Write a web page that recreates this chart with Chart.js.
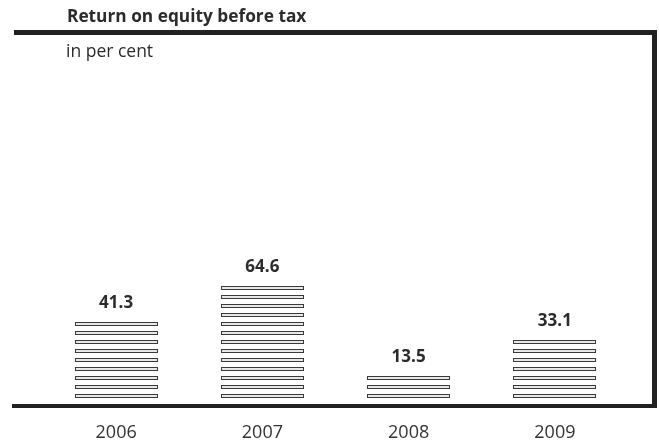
<!DOCTYPE html>
<html><head><meta charset="utf-8">
<script src="https://cdn.jsdelivr.net/npm/chart.js@4.4.0/dist/chart.umd.min.js"></script>
<style>html,body{margin:0;padding:0;background:#fff;} #wrap{width:659px;height:448px;position:relative;}</style>
</head><body><div id="wrap"><canvas id="c" width="659" height="448"></canvas></div>
<script>
const categories = ['2006', '2007', '2008', '2009'];
const returnOnEquity = [41.3, 64.6, 13.5, 33.1];
const valueLabels = ['41.3', '64.6', '13.5', '33.1'];
const titleText = 'Return on equity before tax';
const unitText = 'in per cent';
const yMax = 180;

const FONT = '"Open Sans", "Noto Sans", sans-serif';

const framePlugin = {
  id: 'frame',
  afterDraw(chart) {
    const ctx = chart.ctx;
    ctx.save();
    ctx.fillStyle = '#222';
    ctx.fillRect(14, 30, 643, 5);
    ctx.fillRect(652, 30, 5, 378);
    ctx.fillRect(12, 404, 645, 4);
    ctx.fillStyle = '#2b2b2b';
    ctx.textAlign = 'left';
    ctx.textBaseline = 'alphabetic';
    ctx.font = 'bold 17.3px ' + FONT;
    ctx.fillText(titleText, 67, 22);
    ctx.font = '17.5px ' + FONT;
    ctx.fillText(unitText, 66, 57);
    ctx.restore();
  }
};

const stripePlugin = {
  id: 'stripes',
  afterDatasetsDraw(chart) {
    const ctx = chart.ctx;
    const meta = chart.getDatasetMeta(0);
    meta.data.forEach((bar, i) => {
      const p = bar.getProps(['x', 'y', 'base', 'width'], true);
      const h = p.base - p.y;
      const n = Math.max(1, Math.round(h / 9));
      const left = Math.round(p.x - p.width / 2);
      const w = Math.round(p.width);
      ctx.save();
      ctx.lineWidth = 1;
      ctx.strokeStyle = '#3a3a3a';
      ctx.fillStyle = '#e8e8e8';
      let topY = p.base;
      for (let k = 0; k < n; k++) {
        const yb = Math.round(p.base) - 9 * k;
        const yt = yb - 4;
        ctx.fillRect(left, yt, w, 4);
        ctx.strokeRect(left + 0.5, yt + 0.5, w - 1, 3);
        topY = yt;
      }
      ctx.fillStyle = '#2b2b2b';
      ctx.font = 'bold 17px ' + FONT;
      ctx.textAlign = 'center';
      ctx.textBaseline = 'alphabetic';
      ctx.fillText(valueLabels[i], p.x, topY - 14);
      ctx.restore();
    });
  }
};

new Chart(document.getElementById('c'), {
  type: 'bar',
  data: {
    labels: categories,
    datasets: [{
      data: returnOnEquity,
      backgroundColor: 'rgba(0,0,0,0)',
      borderWidth: 0,
      barThickness: 83
    }]
  },
  options: {
    responsive: false,
    devicePixelRatio: 1,
    animation: false,
    layout: { padding: { left: 43, right: 31, top: 61, bottom: 0 } },
    plugins: { legend: { display: false }, tooltip: { enabled: false }, title: { display: false } },
    scales: {
      x: {
        grid: { display: false, drawTicks: false },
        border: { display: false },
        ticks: { color: '#333', font: { family: FONT, size: 18 }, padding: 24 },
        afterFit: (s) => { s.height = 50; }
      },
      y: { display: false, min: 0, max: yMax }
    }
  },
  plugins: [stripePlugin, framePlugin]
});
</script>
</body></html>
